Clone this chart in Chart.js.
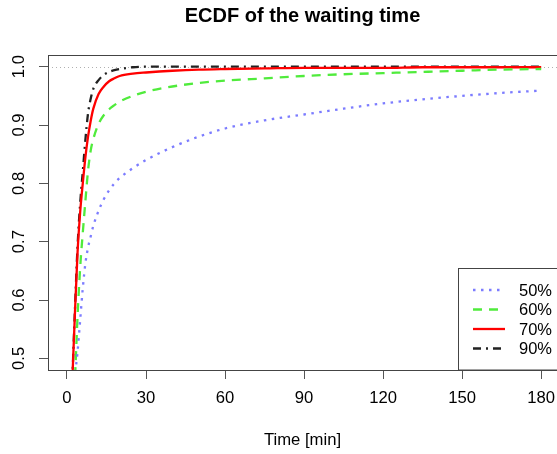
<!DOCTYPE html>
<html lang="en">
<head>
    <meta charset="UTF-8">
    <title>ECDF of the waiting time</title>
    <style>
        body {
            margin: 0;
            background-color: #ffffff;
        }
        .chart-container {
            width: 557px;
            height: 454px;
        }
    </style>
</head>
<body>
    <div class="chart-container">
        <canvas id="ecdfChart" width="557" height="454"></canvas>
    </div>
    <script src="https://cdn.jsdelivr.net/npm/chart.js"></script>
    <script>
        const times = [2, 3, 4, 5, 6, 7, 8, 9, 10, 12, 14, 16, 18, 20, 25, 30, 40, 50, 60, 75, 90, 105, 120, 135, 150, 165, 180];
        const ecdf50 = [0.38, 0.465, 0.51, 0.565, 0.62, 0.663, 0.69, 0.709, 0.727, 0.753, 0.773, 0.788, 0.80, 0.809, 0.826, 0.84, 0.862, 0.88, 0.894, 0.908, 0.918, 0.928, 0.937, 0.944, 0.950, 0.955, 0.959];
        const ecdf60 = [0.36, 0.46, 0.57, 0.655, 0.715, 0.77, 0.822, 0.856, 0.876, 0.902, 0.917, 0.927, 0.934, 0.940, 0.950, 0.957, 0.966, 0.972, 0.976, 0.980, 0.984, 0.987, 0.989, 0.991, 0.993, 0.995, 0.996];
        const ecdf70 = [0.458, 0.575, 0.68, 0.75, 0.80, 0.845, 0.88, 0.907, 0.928, 0.953, 0.966, 0.975, 0.980, 0.984, 0.988, 0.990, 0.993, 0.995, 0.996, 0.997, 0.998, 0.998, 0.998, 0.999, 0.999, 0.999, 0.999];
        const ecdf90 = [0.46, 0.58, 0.69, 0.765, 0.82, 0.875, 0.92, 0.945, 0.962, 0.977, 0.986, 0.991, 0.994, 0.996, 0.999, 1.0, 1.0, 1.0, 1.0, 1.0, 1.0, 1.0, 1.0, 1.0, 1.0, 1.0, 1.0];
        const seriesLabels = ['50%', '60%', '70%', '90%'];
        const xTicks = [0, 30, 60, 90, 120, 150, 180];
        const yTicks = [0.5, 0.6, 0.7, 0.8, 0.9, 1.0];

        const FONT = '"Liberation Sans", Arial, sans-serif';
        const toPoints = vals => times.map((t, i) => ({ x: t, y: vals[i] }));

        // frame round the plot, plus the dotted line at 1
        const framePlugin = {
            id: 'frame',
            beforeDatasetsDraw(chart) {
                const { ctx, chartArea: a, scales } = chart;
                const y1 = scales.y.getPixelForValue(1);
                ctx.save();
                ctx.strokeStyle = '#b0b0b0';
                ctx.lineWidth = 1;
                ctx.setLineDash([1, 3]);
                ctx.beginPath();
                ctx.moveTo(a.left, Math.round(y1) + 0.5);
                ctx.lineTo(a.right, Math.round(y1) + 0.5);
                ctx.stroke();
                ctx.restore();
            },
            afterDatasetsDraw(chart) {
                const { ctx, chartArea: a } = chart;
                ctx.save();
                ctx.strokeStyle = '#444';
                ctx.lineWidth = 1;
                ctx.strokeRect(Math.round(a.left) + 0.5, Math.round(a.top) + 0.5,
                    Math.round(a.right - a.left) + 4, Math.round(a.bottom - a.top));
                ctx.restore();
            }
        };

        // R style legend box in the bottom right corner
        const legendPlugin = {
            id: 'boxLegend',
            afterDraw(chart) {
                const { ctx, chartArea: a } = chart;
                const left = 458.5, top = 268.5;
                ctx.save();
                ctx.fillStyle = '#fff';
                ctx.fillRect(left, top, a.right - left + 5, a.bottom - top);
                ctx.strokeStyle = '#444';
                ctx.lineWidth = 1;
                ctx.strokeRect(left, top, a.right - left + 5, Math.round(a.bottom) - top);
                ctx.font = '16.5px ' + FONT;
                ctx.textBaseline = 'middle';
                ctx.textAlign = 'left';
                chart.data.datasets.forEach((ds, i) => {
                    const y = 290 + i * 19.5;
                    ctx.strokeStyle = ds.borderColor;
                    ctx.lineWidth = ds.borderWidth;
                    ctx.setLineDash(ds.borderDash || []);
                    ctx.beginPath();
                    ctx.moveTo(473, y);
                    ctx.lineTo(505, y);
                    ctx.stroke();
                    ctx.setLineDash([]);
                    ctx.fillStyle = '#000';
                    ctx.fillText(ds.label, 519, y + 1);
                });
                ctx.restore();
            }
        };

        const lineStyle = (label, vals, color, dash) => ({
            label: label,
            data: toPoints(vals),
            borderColor: color,
            borderWidth: 2.3,
            borderDash: dash,
            pointRadius: 0,
            fill: false,
            cubicInterpolationMode: 'monotone',
        });

        const ctx = document.getElementById('ecdfChart').getContext('2d');
        const ecdfChart = new Chart(ctx, {
            type: 'line',
            data: {
                datasets: [
                    lineStyle(seriesLabels[0], ecdf50, 'rgba(110, 110, 255, 0.9)', [2.5, 5.5]),
                    lineStyle(seriesLabels[1], ecdf60, 'rgb(80, 235, 60)', [9, 7]),
                    lineStyle(seriesLabels[2], ecdf70, '#ff0000', []),
                    lineStyle(seriesLabels[3], ecdf90, '#222222', [8, 5, 2, 5]),
                ]
            },
            options: {
                responsive: false,
                animation: false,
                devicePixelRatio: 1,
                layout: { padding: { left: 0, right: 0, top: 0, bottom: 0 } },
                plugins: {
                    legend: { display: false },
                    tooltip: { enabled: false },
                    title: {
                        display: true,
                        text: 'ECDF of the waiting time',
                        fullSize: false,
                        color: '#000',
                        font: { family: FONT, size: 20, weight: 'bold' },
                        padding: { top: 4, bottom: 27 },
                    },
                },
                scales: {
                    x: {
                        type: 'linear',
                        min: -7.2,
                        max: 186,
                        afterFit: s => { s.height = 84; s.paddingRight = 0; s.paddingLeft = 0; },
                        afterBuildTicks: s => { s.ticks = xTicks.map(v => ({ value: v })); },
                        grid: { drawOnChartArea: false, drawTicks: true, tickLength: 9, color: '#555' },
                        border: { display: false },
                        ticks: { color: '#000', padding: 9, maxRotation: 0, font: { family: FONT, size: 16.67 } },
                        title: {
                            display: true,
                            text: 'Time [min]',
                            color: '#000',
                            font: { family: FONT, size: 16.67 },
                            padding: { top: 0, bottom: 4 },
                        },
                    },
                    y: {
                        type: 'linear',
                        min: 0.48,
                        max: 1.02,
                        afterFit: s => { s.width = 48; s.paddingTop = 0; s.paddingBottom = 0; },
                        afterBuildTicks: s => { s.ticks = yTicks.map(v => ({ value: v })); },
                        grid: { drawOnChartArea: false, drawTicks: true, tickLength: 9, color: '#555' },
                        border: { display: false },
                        ticks: {
                            color: '#000',
                            minRotation: 90,
                            maxRotation: 90,
                            crossAlign: 'center',
                            padding: 8,
                            font: { family: FONT, size: 16.67 },
                            callback: v => v.toFixed(1),
                        },
                    },
                },
            },
            plugins: [framePlugin, legendPlugin],
        });
    </script>
</body>
</html>
